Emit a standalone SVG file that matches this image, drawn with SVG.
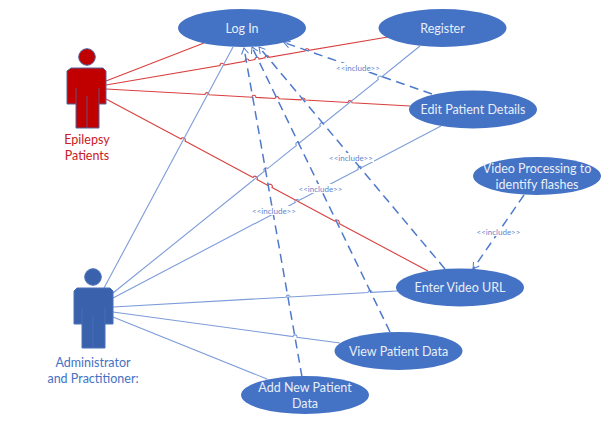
<svg xmlns="http://www.w3.org/2000/svg" width="602" height="425" viewBox="0 0 602 425">
<defs>
<style>
text{font-family:Lato,"Liberation Sans",sans-serif}
.uc{fill:#4472c4}
.uc-t{fill:#e8eef8;font-size:12.5px;text-anchor:middle}
.red{fill:none;stroke:#d8403f;stroke-width:1.1}
.blue{fill:none;stroke:#7d9cd9;stroke-width:1.1}
.dash{fill:none;stroke:#4f7acb;stroke-width:1.5;stroke-dasharray:9 5.5;marker-end:url(#open)}
.lab{fill:#5f84cc;font-size:8px;text-anchor:middle}
.bg{fill:#fff}
.act-red{fill:#c00000;stroke:#4f659f;stroke-width:1}
.act-blue{fill:#3a62ac;stroke:#4a70b8;stroke-width:1}
.seam{fill:none;stroke-width:.8}
.actor-t{font-size:12.5px;text-anchor:middle}
</style>
<marker id="open" markerWidth="9" markerHeight="9" refX="7" refY="4" orient="auto" markerUnits="userSpaceOnUse">
<path d="M1,0.5 L7,4 L1,7.5" fill="none" stroke="#4f7acb" stroke-width="1"/>
</marker>
</defs>
<rect width="602" height="425" fill="#fff"/>
<g id="connectors">
<path class="red" d="M106,81 L204,43"/>
<path class="red" d="M106,85 L220,65.6 A2 2 0 0 1 224,65 L245,61.3 A2 2 0 0 1 249,60.7 L255,59.6 A2 2 0 0 1 259,59 L265,57.9 A2 2 0 0 1 269,57.3 L305,51.1 A2 2 0 0 1 309,50.4 L388,37"/>
<path class="red" d="M106,89 L205,94.5 A2 2 0 0 1 209,94.7 L252,97.2 A2 2 0 0 1 256,97.4 L275,98.5 A2 2 0 0 1 279,98.7 L301,99.9 A2 2 0 0 1 305,100.1 L348,102.5 A2 2 0 0 1 352,102.7 L410,106"/>
<path class="red" d="M106,99 L181,139 A2 2 0 0 1 185,141.1 L253,177.5 A2 2 0 0 1 257,179.6 L268,185.5 A2 2 0 0 1 272,187.6 L335,221.3 A2 2 0 0 1 339,223.4 L428,271"/>
<path class="blue" d="M104,288 L233,47"/>
<path class="blue" d="M113,293 L264.4,171.2 A2 2 0 0 1 267.6,168.6 L296.4,145.4 A2 2 0 0 1 299.6,142.8 L320.4,126.1 A2 2 0 0 1 323.6,123.5 L378.4,79.5 A2 2 0 0 1 381.6,76.9 L420,46"/>
<path class="blue" d="M113,298 L295.2,202.4 A2 2 0 0 1 298.8,200.6 L358.2,169.4 A2 2 0 0 1 361.8,167.6 L441,126"/>
<path class="blue" d="M113,307 L286,297.2 A2 2 0 0 1 290,297 L368,292.6 A2 2 0 0 1 372,292.4 L397,291"/>
<path class="blue" d="M113,312 L293,336.6 A2 2 0 0 1 297,337.2 L340,343"/>
<path class="blue" d="M113,317 L267,379"/>
<path class="dash" d="M432,94 L284,42.5"/>
<path class="dash" d="M445,269 L259,47"/>
<path class="dash" d="M390,332 L252,47"/>
<path class="dash" d="M302,377 L244,48"/>
<path class="dash" d="M524,195 L473,269"/>
<g id="include-labels">
<rect class="bg" x="335" y="63" width="46" height="9"/><text class="lab" x="358" y="70.500">&lt;&lt;include&gt;&gt;</text>
<rect class="bg" x="328" y="153" width="46" height="9"/><text class="lab" x="351" y="160.500">&lt;&lt;include&gt;&gt;</text>
<rect class="bg" x="297.500" y="184" width="46" height="9"/><text class="lab" x="320.500" y="191.500">&lt;&lt;include&gt;&gt;</text>
<rect class="bg" x="251" y="206" width="46" height="9"/><text class="lab" x="274" y="213.500">&lt;&lt;include&gt;&gt;</text>
<rect class="bg" x="475.500" y="227" width="46" height="9"/><text class="lab" x="498.500" y="234.500">&lt;&lt;include&gt;&gt;</text>
</g>
</g>
<g id="actor-epilepsy">
<circle class="act-red" cx="87" cy="57" r="8.3"/>
<path class="act-red" d="M71,68 H103 L106,71 V104 H99 V128 H76 V104 H67 V71 Z"/>
<path class="seam" stroke="#4f659f" d="M76,88 V104 M99,88 V104 M87,96 V128"/>
<text class="actor-t" x="87" y="143.500" fill="#c8201f">Epilepsy</text>
<text class="actor-t" x="87" y="160" fill="#c8201f">Patients</text>
</g>
<g id="actor-admin">
<circle class="act-blue" cx="93" cy="277" r="8.3"/>
<path class="act-blue" d="M77,288 H110 L113,291 V324 H105 V348 H82 V324 H74 V291 Z"/>
<path class="seam" stroke="#4a70b8" d="M82,308 V324 M105,308 V324 M93,316 V348"/>
<text class="actor-t" x="93" y="367" fill="#4472c4">Administrator</text>
<text class="actor-t" x="93" y="383" fill="#4472c4">and Practitioner:</text>
</g>
<g id="uc-login"><ellipse class="uc" cx="242" cy="28" rx="64" ry="19"/><text class="uc-t" x="242" y="32.500">Log In</text></g>
<g id="uc-register"><ellipse class="uc" cx="442.500" cy="28" rx="64" ry="19"/><text class="uc-t" x="442.500" y="32.500">Register</text></g>
<g id="uc-edit"><ellipse class="uc" cx="473" cy="109.500" rx="64" ry="19"/><text class="uc-t" x="473" y="114">Edit Patient Details</text></g>
<g id="uc-video"><ellipse class="uc" cx="537" cy="176" rx="64" ry="19"/><text class="uc-t" x="537" y="173">Video Processing to</text><text class="uc-t" x="537" y="189">identify flashes</text></g>
<g id="uc-enter"><ellipse class="uc" cx="460" cy="287.500" rx="64" ry="19"/><text class="uc-t" x="460" y="292">Enter Video URL</text></g>
<g id="uc-view"><ellipse class="uc" cx="398.500" cy="351" rx="64" ry="19"/><text class="uc-t" x="398.500" y="355.500">View Patient Data</text></g>
<g id="uc-add"><ellipse class="uc" cx="305" cy="395" rx="64" ry="19"/><text class="uc-t" x="305" y="391.500">Add New Patient</text><text class="uc-t" x="305" y="407.500">Data</text></g>
</svg>
